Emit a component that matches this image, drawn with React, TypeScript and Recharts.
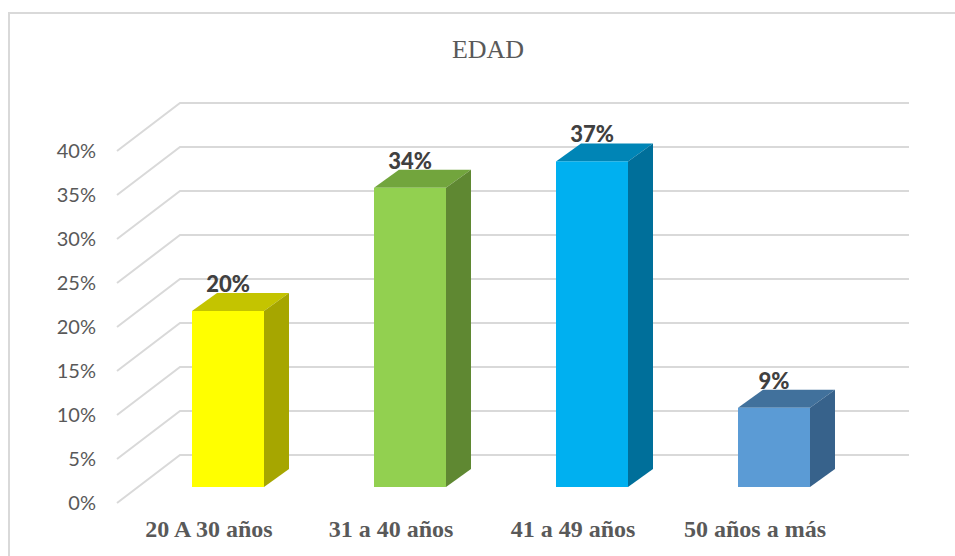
import React from "react";
import { BarChart, Bar, XAxis, YAxis, CartesianGrid, Cell, LabelList } from "recharts";

const categories = ["20 A 30 años", "31 a 40 años", "41 a 49 años", "50 años a más"];
const percentages = [20, 34, 37, 9];
const yTicks = [0, 5, 10, 15, 20, 25, 30, 35, 40];

const frontColors = ["#FFFF00", "#92D050", "#00B0F0", "#5B9BD5"];
const topColors = ["#C4C400", "#72A53D", "#0085B6", "#41719C"];
const sideColors = ["#A6A600", "#5F8832", "#006F9A", "#37628B"];

const data = categories.map((edad, i) => ({ edad, valor: percentages[i] }));

const W = 955;
const H = 556;
// depth of the 3D boxes and of the floor perspective
const DX = 25;
const DY = 18;
const WALL_LEFT = 117;
const WALL_BACK = 180;
const WALL_RIGHT = 909;
const BACK_SHIFT = -32;
const FRONT_SHIFT = 16;
const grid = "#D9D9D9";
const textGrey = "#595959";

function Bar3D(props: any) {
  const { x, y, width, height, index } = props;
  if (height <= 0) return null;
  const i = index ?? 0;
  const r = x + width;
  const b = y + height;
  return (
    <g>
      <polygon points={`${x},${y} ${x + DX},${y - DY} ${r + DX},${y - DY} ${r},${y}`} fill={topColors[i]} />
      <polygon points={`${r},${y} ${r + DX},${y - DY} ${r + DX},${b - DY} ${r},${b}`} fill={sideColors[i]} />
      <rect x={x} y={y} width={width} height={height} fill={frontColors[i]} />
    </g>
  );
}

function GridLine(props: any) {
  const y = props.y1;
  return (
    <path
      key={props.key ?? `g-${y}`}
      d={`M${WALL_LEFT},${y + FRONT_SHIFT} L${WALL_BACK},${y + BACK_SHIFT} L${WALL_RIGHT},${y + BACK_SHIFT}`}
      fill="none"
      stroke={grid}
      strokeWidth={2}
    />
  );
}

function YTick(props: any) {
  const { y, payload } = props;
  return (
    <text x={96} y={y + FRONT_SHIFT} dy={7} textAnchor="end" fontFamily="Lato" fontSize={20} fill={textGrey}>
      {`${payload.value}%`}
    </text>
  );
}

function XTick(props: any) {
  const { x, payload } = props;
  return (
    <text x={x - 19} y={537} textAnchor="middle" fontFamily="Liberation Serif" fontWeight="bold" fontSize={24} fill={textGrey}>
      {payload.value}
    </text>
  );
}

function ValueLabel(props: any) {
  const { x, y, width, value } = props;
  return (
    <text x={x + width / 2} y={y - 19} textAnchor="middle" fontFamily="Lato" fontWeight={900} fontSize={22} fill="#404040">
      {`${value}%`}
    </text>
  );
}

export default function App() {
  return (
    <div style={{ position: "fixed", left: 0, top: 0, width: W, height: H, background: "#fff" }}>
      <svg width={W} height={H} style={{ position: "absolute", left: 0, top: 0 }}>
        <path d={`M9,${H} L9,13 L${W},13`} fill="none" stroke={grid} strokeWidth={2} />
        <text x={488} y={58} textAnchor="middle" fontFamily="Liberation Serif" fontSize={26} fill={textGrey}>
          EDAD
        </text>
      </svg>
      <div style={{ position: "absolute", left: 0, top: 0 }}>
        <BarChart width={W} height={H} data={data} margin={{ top: 135, right: 90, bottom: 29, left: 77 }}>
          <CartesianGrid vertical={false} horizontal={GridLine} />
          <XAxis dataKey="edad" height={40} axisLine={false} tickLine={false} tick={XTick} interval={0} />
          <YAxis width={60} domain={[0, 40]} ticks={yTicks} axisLine={false} tickLine={false} tick={YTick} />
          <Bar dataKey="valor" barSize={72} shape={Bar3D} isAnimationActive={false}>
            {data.map((d, i) => (
              <Cell key={d.edad} fill={frontColors[i]} />
            ))}
            <LabelList dataKey="valor" content={ValueLabel} />
          </Bar>
        </BarChart>
      </div>
    </div>
  );
}
